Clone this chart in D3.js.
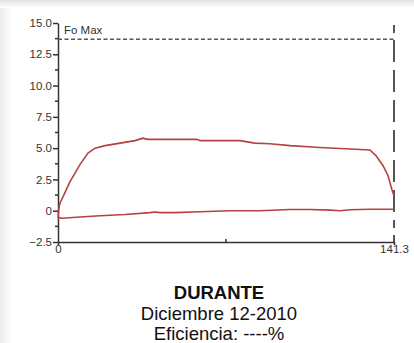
<!DOCTYPE html>
<html>
<head>
<meta charset="utf-8">
<script src="https://cdn.jsdelivr.net/npm/d3@7"></script>
<style>
  body { margin: 0; background: #fff; }
  svg { display: block; font-family: "Liberation Sans", Arial, sans-serif; }
</style>
</head>
<body>
<div id="chart"></div>
<script>
// data (x = time, y = Fo value)
var upperX = [0, 0.3, 0.8, 2.1, 5.0, 9.3, 12.6, 15.6, 19.8, 26.1, 32.4, 35.7, 37.8, 58.5, 59.7, 76.5, 82.8, 89.1, 97.6, 110.2, 120.7, 131.2, 133.7, 136.7, 138.8, 140.4, 141.3];
var upperY = [-0.55, 0.1, 0.6, 1.1, 2.3, 3.7, 4.6, 5.0, 5.2, 5.4, 5.6, 5.8, 5.7, 5.7, 5.6, 5.6, 5.4, 5.35, 5.2, 5.05, 4.95, 4.85, 4.4, 3.6, 2.8, 1.7, 1.2];
var lowerX = [0, 1.7, 9.3, 17.7, 28.2, 38.7, 40.8, 42.9, 49.2, 59.7, 72.3, 84.9, 97.6, 106.0, 114.4, 118.6, 122.8, 131.2, 141.3];
var lowerY = [-0.55, -0.6, -0.5, -0.4, -0.3, -0.15, -0.1, -0.15, -0.15, -0.08, 0, 0, 0.1, 0.1, 0.05, 0, 0.08, 0.12, 0.12];
var foMax = 13.7;
var yTicks = [-2.5, 0, 2.5, 5.0, 7.5, 10.0, 12.5, 15.0];
var xTicks = [0, 141.3];
var titles = ["DURANTE", "Diciembre 12-2010", "Eficiencia: ----%"];

var W = 414, H = 343;
var svg = d3.select("#chart").append("svg")
  .attr("width", W)
  .attr("height", H);

// soft shadow on the top and left edges of the photo
var defs = svg.append("defs");
var gTop = defs.append("linearGradient").attr("id", "gTop").attr("x1", 0).attr("y1", 0).attr("x2", 0).attr("y2", 1);
gTop.append("stop").attr("offset", 0).attr("stop-color", "#e2e2e2");
gTop.append("stop").attr("offset", 1).attr("stop-color", "#fff");
var gLeft = defs.append("linearGradient").attr("id", "gLeft").attr("x1", 0).attr("y1", 0).attr("x2", 1).attr("y2", 0);
gLeft.append("stop").attr("offset", 0).attr("stop-color", "#ebebeb");
gLeft.append("stop").attr("offset", 1).attr("stop-color", "#fff");
svg.append("rect").attr("width", W).attr("height", H).attr("fill", "#fff");
svg.append("rect").attr("width", 12).attr("height", H).attr("fill", "url(#gLeft)");
svg.append("rect").attr("width", W).attr("height", 8).attr("fill", "url(#gTop)");

var x = d3.scaleLinear().domain([0, 141.3]).range([58, 394]);
var y = d3.scaleLinear().domain([-2.5, 15]).range([242, 23]);

// Y axis
var yAxis = svg.append("g")
  .attr("transform", "translate(58,0)")
  .call(d3.axisLeft(y).tickValues(yTicks).tickSize(5).tickSizeOuter(0)
    .tickFormat(function (d) { return d === 0 ? "0" : d3.format(".1f")(d); }));
yAxis.select(".domain").attr("stroke", "#333").attr("stroke-width", 1.5);
yAxis.selectAll(".tick line").attr("stroke", "#333").attr("stroke-width", 1.5);
yAxis.selectAll(".tick text").attr("fill", "#333").attr("font-size", 11.5).attr("x", -6);
// minor ticks
svg.append("g").selectAll("line")
  .data(yTicks.slice(0, -1).map(function (d) { return d + 1.25; }))
  .enter().append("line")
  .attr("x1", 55).attr("x2", 58)
  .attr("y1", function (d) { return y(d); })
  .attr("y2", function (d) { return y(d); })
  .attr("stroke", "#333").attr("stroke-width", 1.5);

// X axis
var xAxis = svg.append("g")
  .attr("transform", "translate(0,242)")
  .call(d3.axisBottom(x).tickValues(xTicks).tickSize(3).tickSizeOuter(0)
    .tickFormat(function (d) { return d === 0 ? "0" : d3.format(".1f")(d); }));
xAxis.select(".domain").attr("stroke", "#333").attr("stroke-width", 1.5);
xAxis.selectAll(".tick line").attr("stroke", "#333").attr("stroke-width", 1.5);
xAxis.selectAll(".tick text").attr("fill", "#333").attr("font-size", 11.5).attr("y", 3);
svg.append("line")
  .attr("x1", x(141.3 / 2)).attr("x2", x(141.3 / 2))
  .attr("y1", 239).attr("y2", 242)
  .attr("stroke", "#333").attr("stroke-width", 1.5);

// Fo max line
svg.append("line")
  .attr("x1", x(0)).attr("x2", x(141.3))
  .attr("y1", y(foMax)).attr("y2", y(foMax))
  .attr("stroke", "#555").attr("stroke-width", 1.5)
  .attr("stroke-dasharray", "4,2.5");
svg.append("text")
  .attr("x", 64).attr("y", 34)
  .attr("font-size", 11.5).attr("fill", "#333")
  .text("Fo Max");

// end of process line
svg.append("line")
  .attr("x1", x(141.3)).attr("x2", x(141.3))
  .attr("y1", 25).attr("y2", 242)
  .attr("stroke", "#555").attr("stroke-width", 2)
  .attr("stroke-dasharray", "8,7,22,8,22,8,22,8,22,8,22,8,22,8");

// curves
var line = d3.line()
  .x(function (d) { return x(d[0]); })
  .y(function (d) { return y(d[1]); });
svg.append("path")
  .datum(d3.zip(upperX, upperY))
  .attr("d", line)
  .attr("fill", "none").attr("stroke", "#b5423f").attr("stroke-width", 1.6);
svg.append("path")
  .datum(d3.zip(lowerX, lowerY))
  .attr("d", line)
  .attr("fill", "none").attr("stroke", "#b5423f").attr("stroke-width", 1.6);

// titles
svg.selectAll(".title")
  .data(titles)
  .enter().append("text")
  .attr("class", "title")
  .attr("x", 219)
  .attr("y", function (d, i) { return [299, 320, 340][i]; })
  .attr("text-anchor", "middle")
  .attr("font-size", 18.5)
  .attr("font-weight", function (d, i) { return i === 0 ? "bold" : "normal"; })
  .attr("fill", "#111")
  .text(function (d) { return d; });
</script>
</body>
</html>
